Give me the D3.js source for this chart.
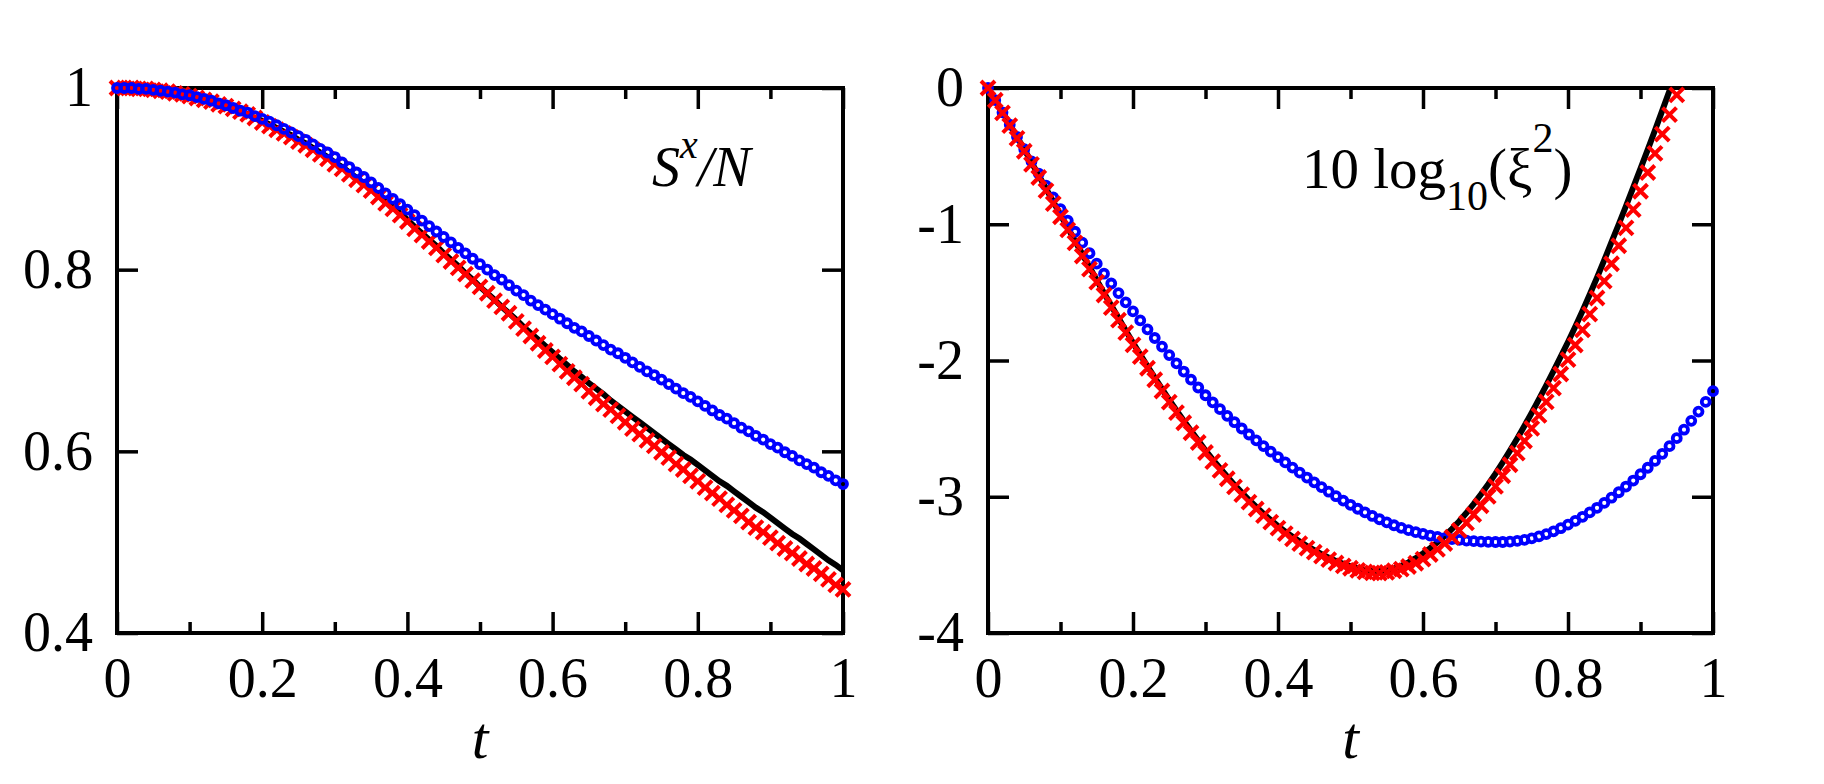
<!DOCTYPE html>
<html><head><meta charset="utf-8">
<script src="https://cdn.jsdelivr.net/npm/d3@7"></script>
<style>
body{margin:0;background:#fff}
svg{display:block}
text{font-family:"Liberation Serif","Times New Roman",serif}
</style>
</head><body>
<svg id="c" width="1824" height="784"></svg>
<script>
// ---- data ----
const T = [0,0.01,0.02,0.03,0.04,0.05,0.06,0.07,0.08,0.09,
0.1,0.11,0.12,0.13,0.14,0.15,0.16,0.17,0.18,0.19,
0.2,0.21,0.22,0.23,0.24,0.25,0.26,0.27,0.28,0.29,
0.3,0.31,0.32,0.33,0.34,0.35,0.36,0.37,0.38,0.39,
0.4,0.41,0.42,0.43,0.44,0.45,0.46,0.47,0.48,0.49,
0.5,0.51,0.52,0.53,0.54,0.55,0.56,0.57,0.58,0.59,
0.6,0.61,0.62,0.63,0.64,0.65,0.66,0.67,0.68,0.69,
0.7,0.71,0.72,0.73,0.74,0.75,0.76,0.77,0.78,0.79,
0.8,0.81,0.82,0.83,0.84,0.85,0.86,0.87,0.88,0.89,
0.9,0.91,0.92,0.93,0.94,0.95,0.96,0.97,0.98,0.99,1];

// Left panel: S^x/N
const sxBlack = [1.000,1.000,1.000,0.999,0.999,0.998,0.997,0.996,0.994,0.993,
0.991,0.989,0.987,0.985,0.982,0.980,0.977,0.974,0.971,0.967,
0.964,0.960,0.956,0.952,0.948,0.943,0.939,0.934,0.929,0.924,
0.918,0.913,0.907,0.901,0.895,0.889,0.882,0.875,0.869,0.862,
0.855,0.847,0.840,0.833,0.826,0.818,0.811,0.804,0.796,0.789,
0.781,0.774,0.767,0.759,0.752,0.745,0.737,0.730,0.723,0.716,
0.709,0.702,0.695,0.688,0.682,0.675,0.669,0.663,0.656,0.650,
0.644,0.638,0.632,0.626,0.620,0.614,0.608,0.602,0.596,0.591,
0.585,0.579,0.573,0.567,0.562,0.556,0.550,0.544,0.538,0.533,
0.527,0.521,0.515,0.509,0.504,0.498,0.492,0.486,0.480,0.475,
0.469];
const sxRed = [1.000,1.000,1.000,0.999,0.999,0.998,0.997,0.996,0.994,0.993,
0.991,0.989,0.987,0.985,0.982,0.980,0.977,0.974,0.971,0.967,
0.962,0.958,0.954,0.950,0.946,0.941,0.937,0.932,0.927,0.922,
0.916,0.911,0.905,0.899,0.893,0.887,0.880,0.873,0.867,0.860,
0.853,0.845,0.838,0.831,0.824,0.816,0.809,0.802,0.795,0.788,
0.781,0.774,0.766,0.759,0.752,0.743,0.735,0.727,0.719,0.711,
0.704,0.696,0.688,0.681,0.674,0.666,0.659,0.652,0.646,0.639,
0.632,0.625,0.619,0.612,0.606,0.599,0.593,0.586,0.580,0.573,
0.567,0.560,0.554,0.548,0.541,0.535,0.529,0.522,0.516,0.511,
0.505,0.499,0.493,0.488,0.482,0.476,0.471,0.465,0.459,0.453,
0.448];
const sxBlue = [1.000,1.000,1.000,0.999,0.999,0.998,0.997,0.996,0.995,0.993,
0.992,0.990,0.988,0.986,0.983,0.981,0.978,0.975,0.973,0.969,
0.966,0.963,0.959,0.955,0.951,0.947,0.943,0.938,0.933,0.929,
0.924,0.918,0.913,0.907,0.902,0.896,0.890,0.884,0.878,0.872,
0.866,0.860,0.854,0.848,0.842,0.836,0.830,0.824,0.818,0.812,
0.806,0.800,0.794,0.789,0.783,0.777,0.772,0.766,0.761,0.756,
0.751,0.746,0.741,0.736,0.732,0.727,0.722,0.717,0.712,0.708,
0.703,0.698,0.693,0.688,0.684,0.679,0.674,0.669,0.664,0.660,
0.655,0.650,0.645,0.640,0.636,0.631,0.626,0.622,0.617,0.613,
0.608,0.604,0.599,0.595,0.590,0.586,0.582,0.577,0.573,0.568,
0.564];

// Right panel: 10 log10(xi^2)
const xiBlack = [0.000,-0.088,-0.178,-0.268,-0.359,-0.450,-0.546,-0.642,-0.738,-0.834,
-0.930,-1.026,-1.122,-1.218,-1.314,-1.410,-1.504,-1.597,-1.689,-1.780,
-1.870,-1.957,-2.042,-2.126,-2.209,-2.290,-2.367,-2.442,-2.515,-2.587,
-2.660,-2.727,-2.791,-2.853,-2.913,-2.970,-3.024,-3.075,-3.124,-3.171,
-3.215,-3.256,-3.294,-3.329,-3.362,-3.392,-3.421,-3.447,-3.471,-3.492,
-3.510,-3.525,-3.537,-3.544,-3.545,-3.540,-3.527,-3.507,-3.482,-3.451,
-3.416,-3.377,-3.334,-3.287,-3.236,-3.180,-3.118,-3.052,-2.982,-2.908,
-2.830,-2.748,-2.662,-2.572,-2.479,-2.383,-2.284,-2.182,-2.078,-1.972,
-1.864,-1.752,-1.636,-1.516,-1.392,-1.264,-1.132,-1.000,-0.866,-0.730,
-0.592,-0.452,-0.310,-0.166,-0.020,0.128];
const xiRed = [0.000,-0.090,-0.183,-0.276,-0.370,-0.464,-0.561,-0.657,-0.753,-0.849,
-0.945,-1.041,-1.137,-1.233,-1.329,-1.425,-1.519,-1.612,-1.704,-1.795,
-1.885,-1.972,-2.057,-2.141,-2.224,-2.305,-2.382,-2.457,-2.530,-2.602,
-2.675,-2.742,-2.806,-2.868,-2.928,-2.985,-3.039,-3.090,-3.139,-3.186,
-3.230,-3.271,-3.309,-3.344,-3.377,-3.407,-3.436,-3.462,-3.486,-3.507,
-3.525,-3.540,-3.552,-3.559,-3.560,-3.555,-3.543,-3.531,-3.512,-3.488,
-3.458,-3.424,-3.386,-3.343,-3.297,-3.247,-3.192,-3.131,-3.066,-2.997,
-2.924,-2.846,-2.765,-2.680,-2.591,-2.498,-2.403,-2.304,-2.203,-2.099,
-1.994,-1.886,-1.775,-1.660,-1.541,-1.418,-1.290,-1.158,-1.027,-0.893,
-0.758,-0.620,-0.480,-0.339,-0.195,-0.050];
const xiBlue = [0.000,-0.089,-0.179,-0.269,-0.359,-0.449,-0.539,-0.628,-0.716,-0.803,
-0.889,-0.973,-1.055,-1.135,-1.213,-1.289,-1.363,-1.435,-1.505,-1.573,
-1.640,-1.706,-1.771,-1.835,-1.898,-1.960,-2.021,-2.081,-2.140,-2.198,
-2.255,-2.307,-2.357,-2.406,-2.453,-2.499,-2.543,-2.586,-2.628,-2.669,
-2.709,-2.748,-2.786,-2.823,-2.859,-2.894,-2.929,-2.963,-2.996,-3.028,
-3.059,-3.088,-3.115,-3.141,-3.165,-3.188,-3.209,-3.228,-3.245,-3.260,
-3.273,-3.285,-3.295,-3.304,-3.311,-3.317,-3.322,-3.326,-3.329,-3.331,
-3.332,-3.332,-3.329,-3.324,-3.316,-3.305,-3.291,-3.274,-3.254,-3.231,
-3.205,-3.177,-3.147,-3.115,-3.081,-3.045,-3.007,-2.967,-2.925,-2.881,
-2.835,-2.787,-2.737,-2.685,-2.629,-2.570,-2.508,-2.443,-2.375,-2.304,
-2.225];

// ticks
const xMajor = [0,0.2,0.4,0.6,0.8,1];
const xMajorLabels = ["0","0.2","0.4","0.6","0.8","1"];
const xMinor = [0.1,0.3,0.5,0.7,0.9];
const leftYTicks = [0.4,0.6,0.8,1];
const leftYLabels = ["0.4","0.6","0.8","1"];
const rightYTicks = [-4,-3,-2,-1,0];
const rightYLabels = ["-4","-3","-2","-1","0"];
const xTitle = "t";

// ---- drawing ----
const FONT = '"Liberation Serif","Times New Roman",serif';
const svg = d3.select("#c");
const zip = (vals) => vals.map((v,i)=>({t:T[i], v:v}));

function panel(o){
  const x = d3.scaleLinear().domain([0,1]).range([o.x0,o.x1]);
  const y = d3.scaleLinear().domain(o.yDomain).range([o.y1,o.y0]);
  const g = svg.append("g");
  const clipId = "clip"+o.id;
  svg.append("clipPath").attr("id",clipId).append("rect")
    .attr("x",o.x0-10).attr("y",o.y0).attr("width",o.x1-o.x0+20).attr("height",o.y1-o.y0+10);

  function styleAxis(sel){
    sel.select(".domain").remove();
    sel.attr("font-family",FONT).attr("font-size",56);
    sel.selectAll(".tick line").attr("stroke","#000").attr("stroke-width",3.5);
    sel.selectAll(".tick text").attr("fill","#000");
  }
  g.append("g").attr("transform",`translate(0,${o.y1})`)
    .call(d3.axisBottom(x).tickValues(xMajor).tickSize(-21).tickPadding(24).tickFormat((d,i)=>xMajorLabels[i]))
    .call(styleAxis);
  g.append("g").attr("transform",`translate(0,${o.y1})`)
    .call(d3.axisBottom(x).tickValues(xMinor).tickSize(-11).tickFormat(""))
    .call(styleAxis);
  g.append("g").attr("transform",`translate(0,${o.y0})`)
    .call(d3.axisTop(x).tickValues(xMajor).tickSize(-21).tickFormat(""))
    .call(styleAxis);
  g.append("g").attr("transform",`translate(0,${o.y0})`)
    .call(d3.axisTop(x).tickValues(xMinor).tickSize(-11).tickFormat(""))
    .call(styleAxis);
  g.append("g").attr("transform",`translate(${o.x0},0)`)
    .call(d3.axisLeft(y).tickValues(o.yTicks).tickSize(-21).tickPadding(24).tickFormat((d,i)=>o.yLabels[i]))
    .call(styleAxis);
  g.append("g").attr("transform",`translate(${o.x1},0)`)
    .call(d3.axisRight(y).tickValues(o.yTicks).tickSize(-21).tickFormat(""))
    .call(styleAxis);
  g.append("rect").attr("x",o.x0).attr("y",o.y0).attr("width",o.x1-o.x0).attr("height",o.y1-o.y0)
    .attr("fill","none").attr("stroke","#000").attr("stroke-width",4);

  g.append("text").attr("x",(o.x0+o.x1)/2).attr("y",758).attr("text-anchor","middle")
    .attr("font-family",FONT).attr("font-size",60).attr("font-style","italic").text(xTitle);

  const line = d3.line().x(d=>x(d.t)).y(d=>y(d.v));
  g.append("path").datum(zip(o.black)).attr("d",line)
    .attr("fill","none").attr("stroke","#000").attr("stroke-width",6)
    .attr("clip-path",`url(#${clipId})`);

  function drawRed(){
    g.append("g").selectAll("path").data(zip(o.red).filter(d=>d.v<=o.yDomain[1]+1e-9)).join("path")
      .attr("transform",d=>`translate(${x(d.t)},${y(d.v)})`)
      .attr("d","M-7,-7L7,7M-7,7L7,-7")
      .attr("stroke","#ff0000").attr("stroke-width",4).attr("fill","none");
  }
  function drawBlue(){
    g.append("g").selectAll("circle").data(zip(o.blue)).join("circle")
      .attr("cx",d=>x(d.t)).attr("cy",d=>y(d.v)).attr("r",4)
      .attr("fill","none").attr("stroke","#0000ff").attr("stroke-width",3.8);
  }
  if(o.blueOnTop){ drawRed(); drawBlue(); } else { drawBlue(); drawRed(); }
  return g;
}

panel({id:"L", x0:117, x1:843, y0:88, y1:633, yDomain:[0.4,1],
  yTicks:leftYTicks, yLabels:leftYLabels, black:sxBlack, red:sxRed, blue:sxBlue, blueOnTop:true});
panel({id:"R", x0:988, x1:1713, y0:88, y1:633, yDomain:[-4,0],
  yTicks:rightYTicks, yLabels:rightYLabels, black:xiBlack, red:xiRed, blue:xiBlue, blueOnTop:false});

// annotations
const a1 = svg.append("text").attr("x",652).attr("y",186).attr("font-family",FONT).attr("font-size",56).attr("font-style","italic");
a1.append("tspan").text("S");
a1.append("tspan").attr("font-size",40).attr("dy",-28).text("x");
a1.append("tspan").attr("dy",28).text("/N");

const a2 = svg.append("text").attr("x",1302).attr("y",188).attr("font-family",FONT).attr("font-size",57);
a2.append("tspan").text("10 log");
a2.append("tspan").attr("font-size",42).attr("dy",22).text("10");
a2.append("tspan").attr("dy",-22).text("(ξ");
a2.append("tspan").attr("font-size",42).attr("dy",-36).text("2");
a2.append("tspan").attr("dy",36).text(")");
</script>
</body></html>
